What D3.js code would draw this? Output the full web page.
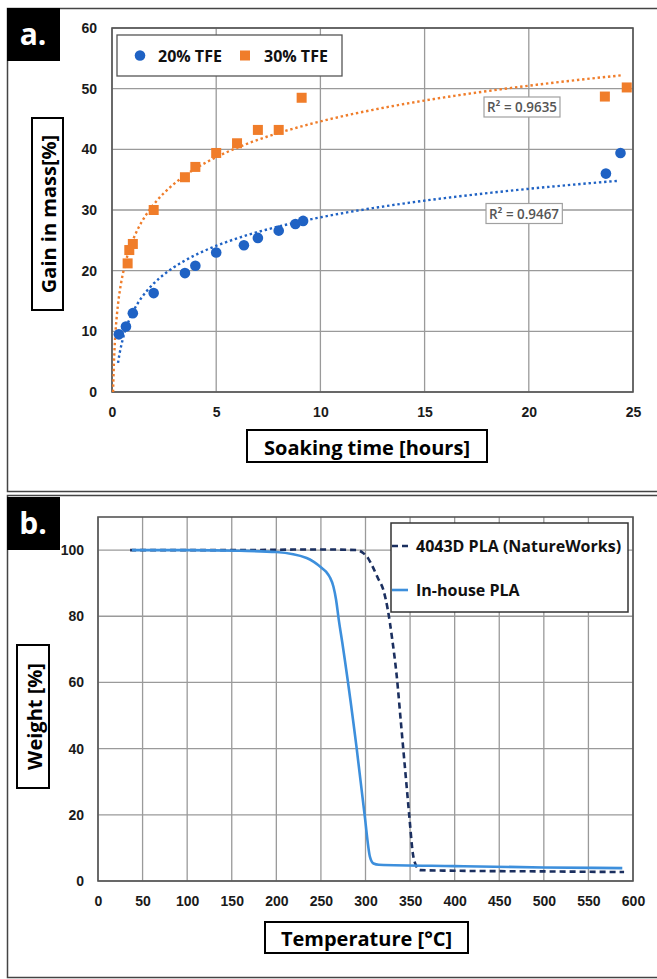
<!DOCTYPE html>
<html lang="en">
<head>
    <meta charset="UTF-8">
    <title>TFE soaking and TGA of PLA</title>
    <script src="https://d3js.org/d3.v7.min.js"></script>
    <style>
        body, html { margin: 0; background: #ffffff; }
        svg { display: block; font-family: 'Open Sans', sans-serif; }
        .tick-label { font-size: 14px; font-weight: bold; fill: #1a1a1a; }
        .axis-title { font-size: 20px; font-weight: bold; fill: #000; }
        .legend-text { font-size: 16px; font-weight: bold; fill: #111; }
        .r2 { font-size: 13.4px; fill: #555; font-weight: 600; }
    </style>
</head>
<body>
<svg width="657" height="979"></svg>
<script>
// ---- panel a: mass gain vs soaking time ----
const hours20 = [0.33, 0.67, 1, 2, 3.5, 4, 5, 6.33, 7, 8, 8.8, 9.17, 23.7, 24.4];
const gain20  = [9.5, 10.8, 13, 16.3, 19.6, 20.8, 23, 24.2, 25.4, 26.6, 27.7, 28.2, 36.0, 39.4];
const hours30 = [0.75, 0.83, 1, 2, 3.5, 4, 5, 6, 7, 8, 9.1, 23.65, 24.7];
const gain30  = [21.2, 23.4, 24.4, 30, 35.4, 37.1, 39.4, 41, 43.2, 43.2, 48.5, 48.7, 50.2];
const r2Labels = ["R² = 0.9467", "R² = 0.9635"];
const hourTicks = [0, 5, 10, 15, 20, 25];
const gainTicks = [0, 10, 20, 30, 40, 50, 60];

// ---- panel b: TGA curves ----
const tempNW   = [36, 150, 250, 290, 297, 303, 308, 314, 320, 325, 330, 335, 340, 345, 349, 353, 357, 361, 400, 500, 590];
const weightNW = [100, 100, 100.2, 100, 99.2, 97.5, 95, 91.5, 88, 82, 73, 62, 47, 32, 20, 8.5, 4.5, 3.3, 3.1, 2.9, 2.7];
const tempIH   = [38, 100, 159, 200, 234, 251, 256, 260, 264, 267, 270, 274, 277, 290, 299, 305, 309, 315, 400, 500, 588];
const weightIH = [100, 100, 99.8, 99.4, 97.6, 94.6, 93.4, 91.8, 89, 85, 79, 72, 66.5, 40.3, 20, 7.3, 5.3, 4.9, 4.5, 4.1, 3.9];
const tempTicks = d3.range(0, 601, 50);
const weightTicks = [0, 20, 40, 60, 80, 100];

const blue = "#1f62c4", orange = "#f07d2a";
const navy = "#1b2f5f", lightBlue = "#3d8fdc";
const gridColor = "#9a9a9a", frameColor = "#555";

const svg = d3.select("svg");
svg.append("rect").attr("width", 657).attr("height", 979).attr("fill", "#fff");

// outer frames of the two panels
svg.append("rect").attr("x", 7.5).attr("y", 8.5).attr("width", 660).attr("height", 483)
    .attr("fill", "none").attr("stroke", "#444").attr("stroke-width", 1.5);
svg.append("rect").attr("x", 7.5).attr("y", 495.5).attr("width", 660).attr("height", 482)
    .attr("fill", "none").attr("stroke", "#444").attr("stroke-width", 1.5);

function panelTag(y, label) {
    svg.append("rect").attr("x", 7).attr("y", y).attr("width", 53).attr("height", 53).attr("fill", "#000");
    svg.append("text").attr("x", 33).attr("y", y + 37).attr("text-anchor", "middle")
        .attr("fill", "#fff").attr("font-size", 30).attr("font-weight", "bold").text(label);
}

// w,h are the box size as seen on the page
function boxedTitle(cx, cy, w, h, label, rotate) {
    const g = svg.append("g").attr("transform", `translate(${cx},${cy})` + (rotate ? " rotate(-90)" : ""));
    const bw = rotate ? h : w, bh = rotate ? w : h;
    g.append("rect").attr("x", -bw / 2).attr("y", -bh / 2).attr("width", bw).attr("height", bh)
        .attr("fill", "#fff").attr("stroke", "#000").attr("stroke-width", 2);
    g.append("text").attr("class", "axis-title").attr("text-anchor", "middle")
        .attr("dominant-baseline", "central").attr("y", 1).text(label);
}

function grid(x, y, xTicks, yTicks) {
    const [x0, x1] = x.range(), [y0, y1] = y.range();
    svg.append("g").selectAll("line.v").data(xTicks).join("line")
        .attr("x1", d => x(d)).attr("x2", d => x(d)).attr("y1", y0).attr("y2", y1)
        .attr("stroke", gridColor).attr("stroke-width", 1.3);
    svg.append("g").selectAll("line.h").data(yTicks).join("line")
        .attr("x1", x0).attr("x2", x1).attr("y1", d => y(d)).attr("y2", d => y(d))
        .attr("stroke", gridColor).attr("stroke-width", 1.3);
}

function frame(x, y) {
    const [x0, x1] = x.range(), [y0, y1] = y.range();
    svg.append("rect").attr("x", x0).attr("y", y1).attr("width", x1 - x0).attr("height", y0 - y1)
        .attr("fill", "none").attr("stroke", frameColor).attr("stroke-width", 1.6);
}

function tickLabels(x, y, xTicks, yTicks, xLabelY, yLabelX) {
    svg.append("g").call(d3.axisBottom(x).tickValues(xTicks).tickSize(0).tickPadding(0))
        .attr("transform", `translate(0,${xLabelY})`)
        .call(g => g.select(".domain").remove())
        .selectAll("text").attr("class", "tick-label").attr("dy", "0.35em");
    svg.append("g").call(d3.axisLeft(y).tickValues(yTicks).tickSize(0).tickPadding(0))
        .attr("transform", `translate(${yLabelX},0)`)
        .call(g => g.select(".domain").remove())
        .selectAll("text").attr("class", "tick-label");
}

// ================= panel a =================
const xA = d3.scaleLinear().domain([0, 25]).range([112, 633]);
const yA = d3.scaleLinear().domain([0, 60]).range([392, 28]);

panelTag(8, "a.");
grid(xA, yA, hourTicks, gainTicks);
frame(xA, yA);
tickLabels(xA, yA, hourTicks, gainTicks, 412, 97);

// logarithmic least squares trend, like the spreadsheet does
function logFit(xs, ys) {
    const lx = xs.map(Math.log);
    const mx = d3.mean(lx), my = d3.mean(ys);
    const a = d3.sum(lx, (v, i) => (v - mx) * (ys[i] - my)) / d3.sum(lx, v => (v - mx) * (v - mx));
    return {a, b: my - a * mx};
}
function trendLine(fit, from, to, color) {
    const pts = d3.range(0, 201).map(i => Math.exp(Math.log(from) + (Math.log(to) - Math.log(from)) * i / 200));
    svg.append("path")
        .datum(pts)
        .attr("d", d3.line().x(d => xA(d)).y(d => yA(Math.max(0, fit.a * Math.log(d) + fit.b))))
        .attr("fill", "none").attr("stroke", color).attr("stroke-width", 2.4)
        .attr("stroke-dasharray", "2.4 2.8");
}
const fit20 = logFit(hours20, gain20);
const fit30 = logFit(hours30, gain30);
trendLine(fit20, 0.29, 24.3, blue);
trendLine(fit30, Math.max(0.02, Math.exp(-fit30.b / fit30.a)), 24.5, orange);

svg.append("g").selectAll("circle").data(hours20).join("circle")
    .attr("cx", d => xA(d)).attr("cy", (d, i) => yA(gain20[i])).attr("r", 5.3).attr("fill", blue);
svg.append("g").selectAll("rect").data(hours30).join("rect")
    .attr("x", d => xA(d) - 5).attr("y", (d, i) => yA(gain30[i]) - 5)
    .attr("width", 10).attr("height", 10).attr("fill", orange);

// R² boxes
function r2Box(cx, cy, label) {
    const t = svg.append("text").attr("class", "r2").attr("x", cx).attr("y", cy)
        .attr("text-anchor", "middle").attr("dominant-baseline", "central").text(label);
    const bb = t.node().getBBox();
    svg.insert("rect", () => t.node()).attr("x", bb.x - 3).attr("y", cy - 10)
        .attr("width", bb.width + 6).attr("height", 20)
        .attr("fill", "#fff").attr("stroke", "#a0a0a0").attr("stroke-width", 1.2);
}
r2Box(522, 107, r2Labels[1]);
r2Box(524, 213.5, r2Labels[0]);

// legend a
svg.append("rect").attr("x", 117).attr("y", 35).attr("width", 225).attr("height", 41)
    .attr("fill", "#fff").attr("stroke", frameColor).attr("stroke-width", 1.3);
svg.append("circle").attr("cx", 140).attr("cy", 55.5).attr("r", 5.3).attr("fill", blue);
svg.append("text").attr("class", "legend-text").attr("x", 158).attr("y", 56)
    .attr("dominant-baseline", "central").text("20% TFE");
svg.append("rect").attr("x", 240).attr("y", 50.5).attr("width", 10).attr("height", 10).attr("fill", orange);
svg.append("text").attr("class", "legend-text").attr("x", 264).attr("y", 56)
    .attr("dominant-baseline", "central").text("30% TFE");

boxedTitle(47.5, 214, 31, 192, "Gain in mass[%]", true);
boxedTitle(367, 446, 240, 32, "Soaking time [hours]", false);

// ================= panel b =================
const xB = d3.scaleLinear().domain([0, 600]).range([98, 633]);
const yB = d3.scaleLinear().domain([0, 110]).range([881, 517]);

panelTag(497, "b.");
grid(xB, yB, tempTicks, weightTicks);
frame(xB, yB);
tickLabels(xB, yB, tempTicks, weightTicks, 901, 84);

const curve = d3.line().x(d => xB(d[0])).y(d => yB(d[1])).curve(d3.curveMonotoneX);
svg.append("path").datum(tempNW.map((t, i) => [t, weightNW[i]])).attr("d", curve)
    .attr("fill", "none").attr("stroke", navy).attr("stroke-width", 2.6).attr("stroke-dasharray", "6 4");
svg.append("path").datum(tempIH.map((t, i) => [t, weightIH[i]])).attr("d", curve)
    .attr("fill", "none").attr("stroke", lightBlue).attr("stroke-width", 2.6);

// legend b
svg.append("rect").attr("x", 391).attr("y", 523).attr("width", 237).attr("height", 89)
    .attr("fill", "#fff").attr("stroke", "#333").attr("stroke-width", 1.5);
svg.append("line").attr("x1", 392).attr("x2", 408).attr("y1", 546).attr("y2", 546)
    .attr("stroke", navy).attr("stroke-width", 2.6).attr("stroke-dasharray", "6 4");
svg.append("line").attr("x1", 392).attr("x2", 408).attr("y1", 590).attr("y2", 590)
    .attr("stroke", lightBlue).attr("stroke-width", 2.6);
svg.append("text").attr("class", "legend-text").attr("x", 416).attr("y", 546)
    .attr("dominant-baseline", "central").text("4043D PLA (NatureWorks)");
svg.append("text").attr("class", "legend-text").attr("x", 416).attr("y", 590)
    .attr("dominant-baseline", "central").text("In-house PLA");

boxedTitle(33, 716.5, 32, 143, "Weight [%]", true);
boxedTitle(366.5, 937.5, 203, 31, "Temperature [°C]", false);
</script>
</body>
</html>
